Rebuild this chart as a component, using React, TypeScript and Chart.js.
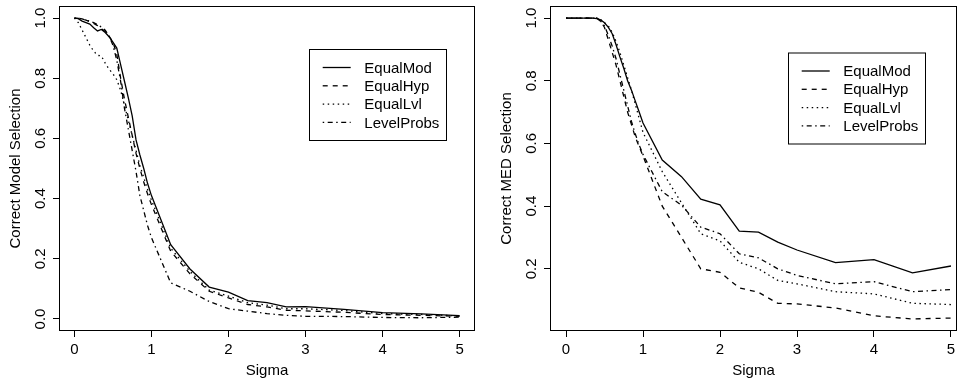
import React, { useEffect, useRef } from "react";
import { Chart, registerables } from "chart.js";
Chart.register(...registerables);

// ---------- data ----------
const sigma = [
  0, 0.05, 0.1, 0.15, 0.2, 0.25, 0.3, 0.35, 0.4, 0.45,
  0.5, 0.55, 0.6, 0.65, 0.7, 0.75, 0.8, 0.85, 0.9, 0.95,
  1.0, 1.25, 1.5, 1.75, 2.0, 2.25, 2.5, 2.75, 3.0,
  3.5, 4.0, 4.5, 5.0,
];

const seriesNames = ["EqualMod", "EqualHyp", "EqualLvl", "LevelProbs"];

// Left panel: Correct Model Selection
const modelEqualMod = [
  1, 0.998, 0.99, 0.985, 0.98, 0.968, 0.957, 0.962, 0.952, 0.938,
  0.92, 0.9, 0.845, 0.79, 0.735, 0.675, 0.595, 0.545, 0.5, 0.45,
  0.41, 0.247, 0.166, 0.106, 0.089, 0.061, 0.054, 0.04, 0.041,
  0.032, 0.021, 0.017, 0.011,
];
const modelEqualHyp = [
  1, 0.999, 0.997, 0.993, 0.988, 0.982, 0.975, 0.965, 0.955, 0.94,
  0.92, 0.88, 0.8, 0.73, 0.67, 0.61, 0.55, 0.5, 0.455, 0.415,
  0.38, 0.225, 0.15, 0.092, 0.07, 0.048, 0.04, 0.029, 0.027,
  0.022, 0.015, 0.012, 0.009,
];
const modelEqualLvl = [
  1, 0.985, 0.96, 0.935, 0.91, 0.89, 0.876, 0.874, 0.85, 0.83,
  0.815, 0.795, 0.76, 0.71, 0.66, 0.61, 0.56, 0.51, 0.47, 0.43,
  0.395, 0.235, 0.158, 0.096, 0.076, 0.054, 0.046, 0.034, 0.034,
  0.028, 0.018, 0.015, 0.01,
];
const modelLevelProbs = [
  1, 0.999, 0.997, 0.993, 0.99, 0.985, 0.978, 0.97, 0.96, 0.94,
  0.91, 0.86, 0.79, 0.7, 0.63, 0.56, 0.49, 0.41, 0.36, 0.31,
  0.27, 0.12, 0.092, 0.058, 0.034, 0.026, 0.018, 0.012, 0.009,
  0.008, 0.005, 0.004, 0.006,
];

// Right panel: Correct MED Selection
const medEqualMod = [
  1, 1, 1, 1, 1, 1, 1, 1, 0.998, 0.994,
  0.985, 0.97, 0.95, 0.915, 0.876, 0.84, 0.8, 0.77, 0.735, 0.7,
  0.665, 0.547, 0.494, 0.422, 0.404, 0.32, 0.317, 0.285, 0.26,
  0.22, 0.229, 0.187, 0.209,
];
const medEqualHyp = [
  1, 1, 1, 1, 1, 1, 1, 1, 1, 0.99,
  0.97, 0.93, 0.89, 0.85, 0.8, 0.75, 0.7, 0.66, 0.62, 0.59,
  0.56, 0.4, 0.3, 0.2, 0.189, 0.139, 0.125, 0.09, 0.088,
  0.075, 0.05, 0.04, 0.043,
];
const medEqualLvl = [
  1, 1, 1, 1, 1, 1, 1, 1, 1, 0.995,
  0.985, 0.975, 0.955, 0.925, 0.89, 0.85, 0.81, 0.77, 0.725, 0.68,
  0.635, 0.51, 0.41, 0.312, 0.289, 0.221, 0.2, 0.163, 0.152,
  0.127, 0.12, 0.09, 0.086,
];
const medLevelProbs = [
  1, 1, 1, 1, 1, 1, 1, 1, 1, 0.99,
  0.975, 0.945, 0.91, 0.87, 0.82, 0.77, 0.72, 0.67, 0.63, 0.595,
  0.565, 0.446, 0.403, 0.333, 0.312, 0.248, 0.235, 0.2, 0.179,
  0.152, 0.159, 0.127, 0.134,
];

const xTicks = [0, 1, 2, 3, 4, 5];
const modelYTicks = [0, 0.2, 0.4, 0.6, 0.8, 1.0];
const medYTicks = [0.2, 0.4, 0.6, 0.8, 1.0];

// ---------- styles ----------
const FONT = '"Liberation Sans", Arial, Helvetica, sans-serif';
const FS = 15;
const DASHES: number[][] = [[], [5, 5], [1.5, 3.5], [1.5, 3.5, 5, 3.5]];
const LINE_W = 1.3;

const boxPlugin = {
  id: "rbox",
  afterDraw(chart: any) {
    const { ctx, chartArea: a } = chart;
    ctx.save();
    ctx.strokeStyle = "#000";
    ctx.lineWidth = 1;
    ctx.setLineDash([]);
    ctx.strokeRect(a.left + 0.5, a.top + 0.5, a.right - a.left - 1, a.bottom - a.top - 1);
    ctx.restore();
  },
};

const legendPlugin = {
  id: "rlegend",
  afterDatasetsDraw(chart: any, _args: any, opts: any) {
    const { ctx } = chart;
    const { x, y, w, h, rows, lineX0, lineX1, textX } = opts;
    ctx.save();
    ctx.fillStyle = "#fff";
    ctx.fillRect(x, y, w, h);
    ctx.strokeStyle = "#000";
    ctx.lineWidth = 1;
    ctx.setLineDash([]);
    ctx.strokeRect(x + 0.5, y + 0.5, w, h);
    chart.data.datasets.forEach((ds: any, i: number) => {
      const ry = y + rows[i];
      ctx.strokeStyle = "#000";
      ctx.lineWidth = ds.borderWidth;
      ctx.setLineDash(ds.borderDash || []);
      ctx.beginPath();
      ctx.moveTo(lineX0, ry);
      ctx.lineTo(lineX1, ry);
      ctx.stroke();
      ctx.setLineDash([]);
      ctx.fillStyle = "#000";
      ctx.font = `${FS}px ${FONT}`;
      ctx.textBaseline = "middle";
      ctx.textAlign = "left";
      ctx.fillText(ds.label, textX, ry + 1);
    });
    ctx.restore();
  },
};

type PanelCfg = {
  values: number[][];
  yTicks: number[];
  yTitle: string;
  xMin: number;
  xMax: number;
  yMin: number;
  yMax: number;
  yWidth: number;
  padRight: number;
  titlePad: number;
  legend: any;
};

function Panel({ cfg, left }: { cfg: PanelCfg; left: number }) {
  const ref = useRef<HTMLCanvasElement>(null);
  useEffect(() => {
    if (!ref.current) return;
    const chart = new Chart(ref.current, {
      type: "line",
      data: {
        datasets: cfg.values.map((vals, i) => ({
          label: seriesNames[i],
          data: sigma.map((s, j) => ({ x: s, y: vals[j] })),
          borderColor: "#000",
          borderWidth: LINE_W,
          borderDash: DASHES[i],
          pointRadius: 0,
          fill: false,
          tension: 0,
        })),
      },
      options: {
        animation: false,
        responsive: false,
        events: [],
        layout: { padding: { top: 6, right: cfg.padRight, left: 0, bottom: 0 } },
        plugins: {
          legend: { display: false },
          tooltip: { enabled: false },
          rlegend: cfg.legend,
        } as any,
        scales: {
          x: {
            type: "linear",
            min: cfg.xMin,
            max: cfg.xMax,
            afterBuildTicks: (s: any) => {
              s.ticks = xTicks.map((v) => ({ value: v }));
            },
            afterFit: (s: any) => {
              s.height = 54;
              s.paddingLeft = 0;
              s.paddingRight = 0;
            },
            ticks: {
              color: "#000",
              font: { family: FONT, size: FS },
              padding: 4,
              maxRotation: 0,
              minRotation: 0,
              autoSkip: false,
              callback: (v: any) => String(v),
            },
            grid: { drawOnChartArea: false, drawTicks: true, tickLength: 6, color: "#000" },
            border: { display: false },
            title: {
              display: true,
              text: "Sigma",
              color: "#000",
              font: { family: FONT, size: FS },
              padding: { top: 0, bottom: 5 },
            },
          },
          y: {
            type: "linear",
            min: cfg.yMin,
            max: cfg.yMax,
            afterBuildTicks: (s: any) => {
              s.ticks = cfg.yTicks.map((v) => ({ value: v }));
            },
            afterFit: (s: any) => {
              s.width = cfg.yWidth;
              s.paddingTop = 0;
              s.paddingBottom = 0;
            },
            ticks: {
              color: "#000",
              font: { family: FONT, size: FS },
              padding: 2,
              minRotation: 90,
              maxRotation: 90,
              crossAlign: "center",
              autoSkip: false,
              callback: (v: any) => Number(v).toFixed(1),
            },
            grid: { drawOnChartArea: false, drawTicks: true, tickLength: 6, color: "#000" },
            border: { display: false },
            title: {
              display: true,
              text: cfg.yTitle,
              color: "#000",
              font: { family: FONT, size: FS },
              padding: { top: cfg.titlePad, bottom: 0 },
            },
          },
        },
      } as any,
      plugins: [boxPlugin, legendPlugin],
    });
    return () => chart.destroy();
  }, [cfg]);
  return (
    <canvas
      ref={ref}
      width={479}
      height={385}
      style={{ position: "absolute", left, top: 0, width: 479, height: 385, display: "block" }}
    />
  );
}

const legendLayout = (y: number) => ({
  x: 309,
  y,
  w: 137,
  h: 91,
  rows: [18.5, 36.8, 55.1, 73.4],
  lineX0: 322.7,
  lineX1: 350.7,
  textX: 364.3,
});

const leftCfg: PanelCfg = {
  values: [modelEqualMod, modelEqualHyp, modelEqualLvl, modelLevelProbs],
  yTicks: modelYTicks,
  yTitle: "Correct Model Selection",
  xMin: -0.2,
  xMax: 5.2,
  yMin: -0.04,
  yMax: 1.04,
  yWidth: 59,
  padRight: 4,
  titlePad: 7,
  legend: legendLayout(49),
};

const rightCfg: PanelCfg = {
  values: [medEqualMod, medEqualHyp, medEqualLvl, medLevelProbs],
  yTicks: medYTicks,
  yTitle: "Correct MED Selection",
  xMin: -0.208,
  xMax: 5.078,
  yMin: 0.0016,
  yMax: 1.0384,
  yWidth: 71,
  padRight: 1,
  titlePad: 19,
  legend: legendLayout(52.5),
};

export default function App() {
  return (
    <div
      style={{
        position: "fixed",
        left: 0,
        top: 0,
        width: 958,
        height: 385,
        background: "#fff",
        overflow: "hidden",
      }}
    >
      <Panel cfg={leftCfg} left={0} />
      <Panel cfg={rightCfg} left={479} />
    </div>
  );
}
